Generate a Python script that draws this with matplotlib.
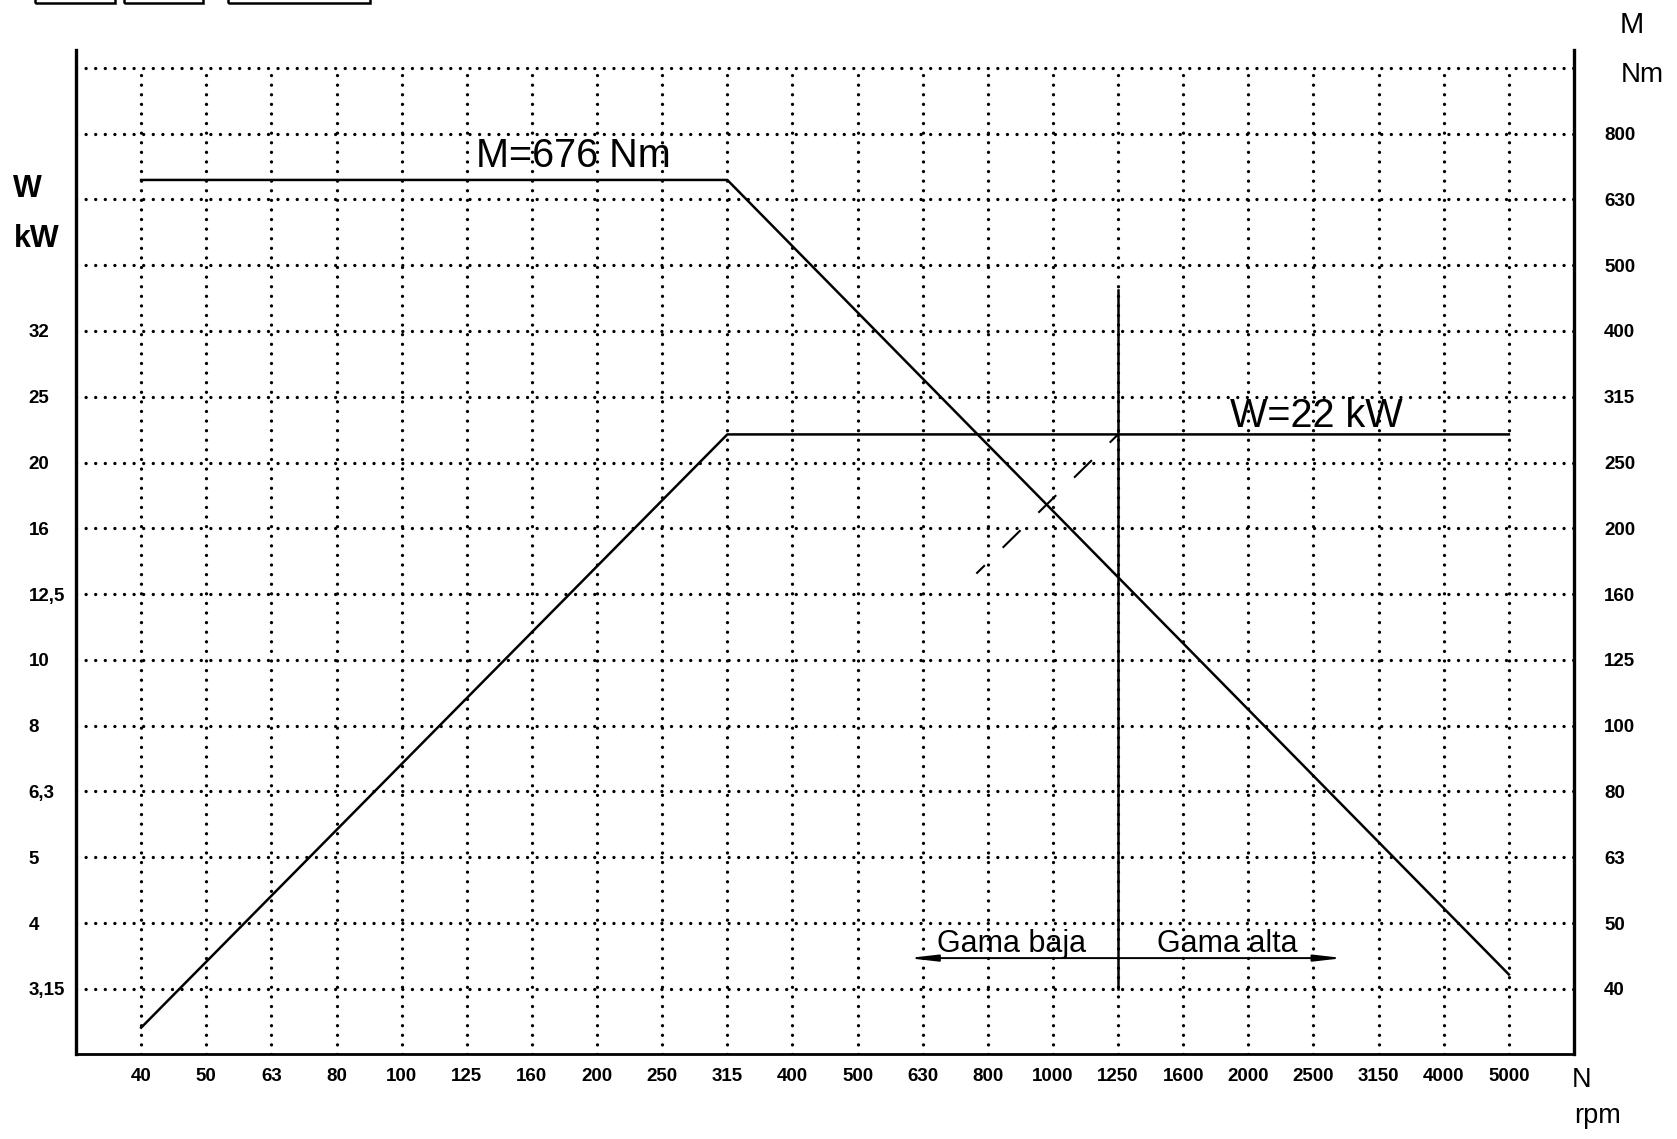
import numpy as np
import matplotlib
matplotlib.use("Agg")
import matplotlib.pyplot as plt
from matplotlib.patches import Rectangle
from matplotlib.ticker import NullLocator

plt.rcParams['lines.scale_dashes'] = False
plt.rcParams['font.family'] = ['Liberation Sans', 'DejaVu Sans']

# ---------------- data ----------------
RPM_TICKS = [40, 50, 63, 80, 100, 125, 160, 200, 250, 315, 400, 500, 630, 800,
             1000, 1250, 1600, 2000, 2500, 3150, 4000, 5000]
NM_TICKS = [40, 50, 63, 80, 100, 125, 160, 200, 250, 315, 400, 500, 630, 800]
NM_GRID = NM_TICKS + [1000]
KW_TICKS = [3.15, 4, 5, 6.3, 8, 10, 12.5, 16, 20, 25, 32]

RPM_BREAKS = [40, 315, 5000]
TORQUE_NM = [676, 676, 42]
POWER_KW = [2.75, 22.0, 22.0]

SPLIT_RPM = 1250
SPLIT_NM = [40, 460]
CONST_TORQUE_RPM = [767, 1250]
CONST_TORQUE_KW = [13.5, 22.0]
GAMA_NM = 44.4
GAMA_LOW_RPM = 598
GAMA_HIGH_RPM = 2780

W, H = 1677, 1139


def r10_scale(nominal):
    """Scale that places the nominal R10 values equally spaced (log-like)."""
    lv = np.log10(np.asarray(nominal, float))
    idx = np.arange(len(lv), dtype=float)

    def fwd(v):
        lx = np.log10(np.maximum(np.asarray(v, float), 1e-12))
        out = np.interp(lx, lv, idx)
        out = np.where(lx < lv[0], (lx - lv[0]) * 10, out)
        out = np.where(lx > lv[-1], idx[-1] + (lx - lv[-1]) * 10, out)
        return out

    def inv(t):
        t = np.asarray(t, float)
        out = np.interp(t, idx, lv)
        out = np.where(t < 0, lv[0] + t / 10, out)
        out = np.where(t > idx[-1], lv[-1] + (t - idx[-1]) / 10, out)
        return 10 ** out

    return fwd, inv


fig = plt.figure(figsize=(W / 100, H / 100), dpi=100)
ax = fig.add_axes([76 / W, (H - 1054) / H, (1574 - 76) / W, (1054 - 50) / H])

rfwd, rinv = r10_scale(RPM_TICKS)
kfwd, kinv = r10_scale(KW_TICKS)
mfwd, minv = r10_scale(NM_GRID)

ax.set_xscale('function', functions=(rfwd, rinv))
ax.set_yscale('function', functions=(kfwd, kinv))
ax2 = ax.twinx()
ax2.set_yscale('function', functions=(mfwd, minv))

ax.set_xlim(float(rinv(-1.0)), float(rinv(22.0)))
ax.set_ylim(float(kinv(-0.99)), float(kinv(14.27)))
ax2.set_ylim(float(minv(-0.99)), float(minv(14.27)))

# ---------------- dotted grid ----------------
dot = dict(color='black', lw=2.4, ls=(0, (0.01, 6.9)), dash_capstyle='round', zorder=1)
for v in NM_GRID:
    ax2.axhline(v, **dot)
ybot = ax2.get_ylim()[0]
for r in RPM_TICKS:
    ax2.plot([r, r], [ybot, NM_GRID[-1]], **dot)

# ---------------- curves ----------------
ax2.plot(RPM_BREAKS, TORQUE_NM, color='black', lw=1.8, zorder=3)
ax.plot(RPM_BREAKS, POWER_KW, color='black', lw=1.8, zorder=3)
ax2.plot([SPLIT_RPM, SPLIT_RPM], SPLIT_NM, color='black', lw=1.8, zorder=3)
ax.plot(CONST_TORQUE_RPM, CONST_TORQUE_KW, color='black', lw=1.5,
        ls=(9.4, (18, 18)), zorder=3)

arrow = dict(arrowstyle='-|>,head_length=1.4,head_width=0.16', color='black',
             lw=1.4, mutation_scale=12, shrinkA=0, shrinkB=0)
ax2.annotate('', xy=(GAMA_LOW_RPM, GAMA_NM), xytext=(SPLIT_RPM, GAMA_NM), arrowprops=arrow)
ax2.annotate('', xy=(GAMA_HIGH_RPM, GAMA_NM), xytext=(SPLIT_RPM, GAMA_NM), arrowprops=arrow)

# ---------------- ticks ----------------
def fmt(v):
    return f'{v:g}'.replace('.', ',')

ax.set_xticks(RPM_TICKS, labels=[str(v) for v in RPM_TICKS], fontsize=13.5, fontweight='bold')
ax.set_yticks(KW_TICKS, labels=[fmt(v) for v in KW_TICKS], fontsize=13.5, fontweight='bold')
ax2.set_yticks(NM_TICKS, labels=[str(v) for v in NM_TICKS], fontsize=13.5, fontweight='bold')
for a in (ax, ax2):
    a.xaxis.set_minor_locator(NullLocator())
    a.yaxis.set_minor_locator(NullLocator())
ax.tick_params(axis='x', length=0, pad=10)
ax.tick_params(axis='y', length=0, pad=34)
for lbl in ax.get_yticklabels():
    lbl.set_horizontalalignment('left')
ax2.tick_params(axis='y', length=0, pad=21.6)

# ---------------- spines ----------------
for s in ax2.spines.values():
    s.set_visible(False)
ax.spines['top'].set_visible(False)
ax.spines['left'].set_linewidth(2.4)
ax.spines['right'].set_linewidth(2.4)
ax.spines['bottom'].set_linewidth(2.0)

# ---------------- texts ----------------
def ftext(x, y, s, size, ha='center', weight='normal'):
    fig.text(x / W, 1 - y / H, s, ha=ha, va='baseline', fontsize=size,
             color='black', fontweight=weight)

ftext(573, 167, 'M=676 Nm', 28.5)
ftext(1316, 427, 'W=22 kW', 28.5)
ftext(1012, 952, 'Gama baja', 22)
ftext(1227, 952, 'Gama alta', 22)
ftext(27, 197, 'W', 22, weight='bold')
ftext(37, 247, 'kW', 22, weight='bold')
ftext(1632, 33, 'M', 21)
ftext(1642, 82, 'Nm', 20)
ftext(1582, 1087, 'N', 19.5)
ftext(1597, 1123, 'rpm', 19.5)

# boxes cut at the top edge of the scan
for x0, x1 in [(35, 115), (124, 203), (228, 370)]:
    fig.add_artist(Rectangle((x0 / W, 1 - 3 / H), (x1 - x0) / W, 20 / H,
                             transform=fig.transFigure, fill=False, lw=1.8,
                             ec='black', clip_on=False))

fig.savefig('out.png', dpi=100, facecolor='white')
